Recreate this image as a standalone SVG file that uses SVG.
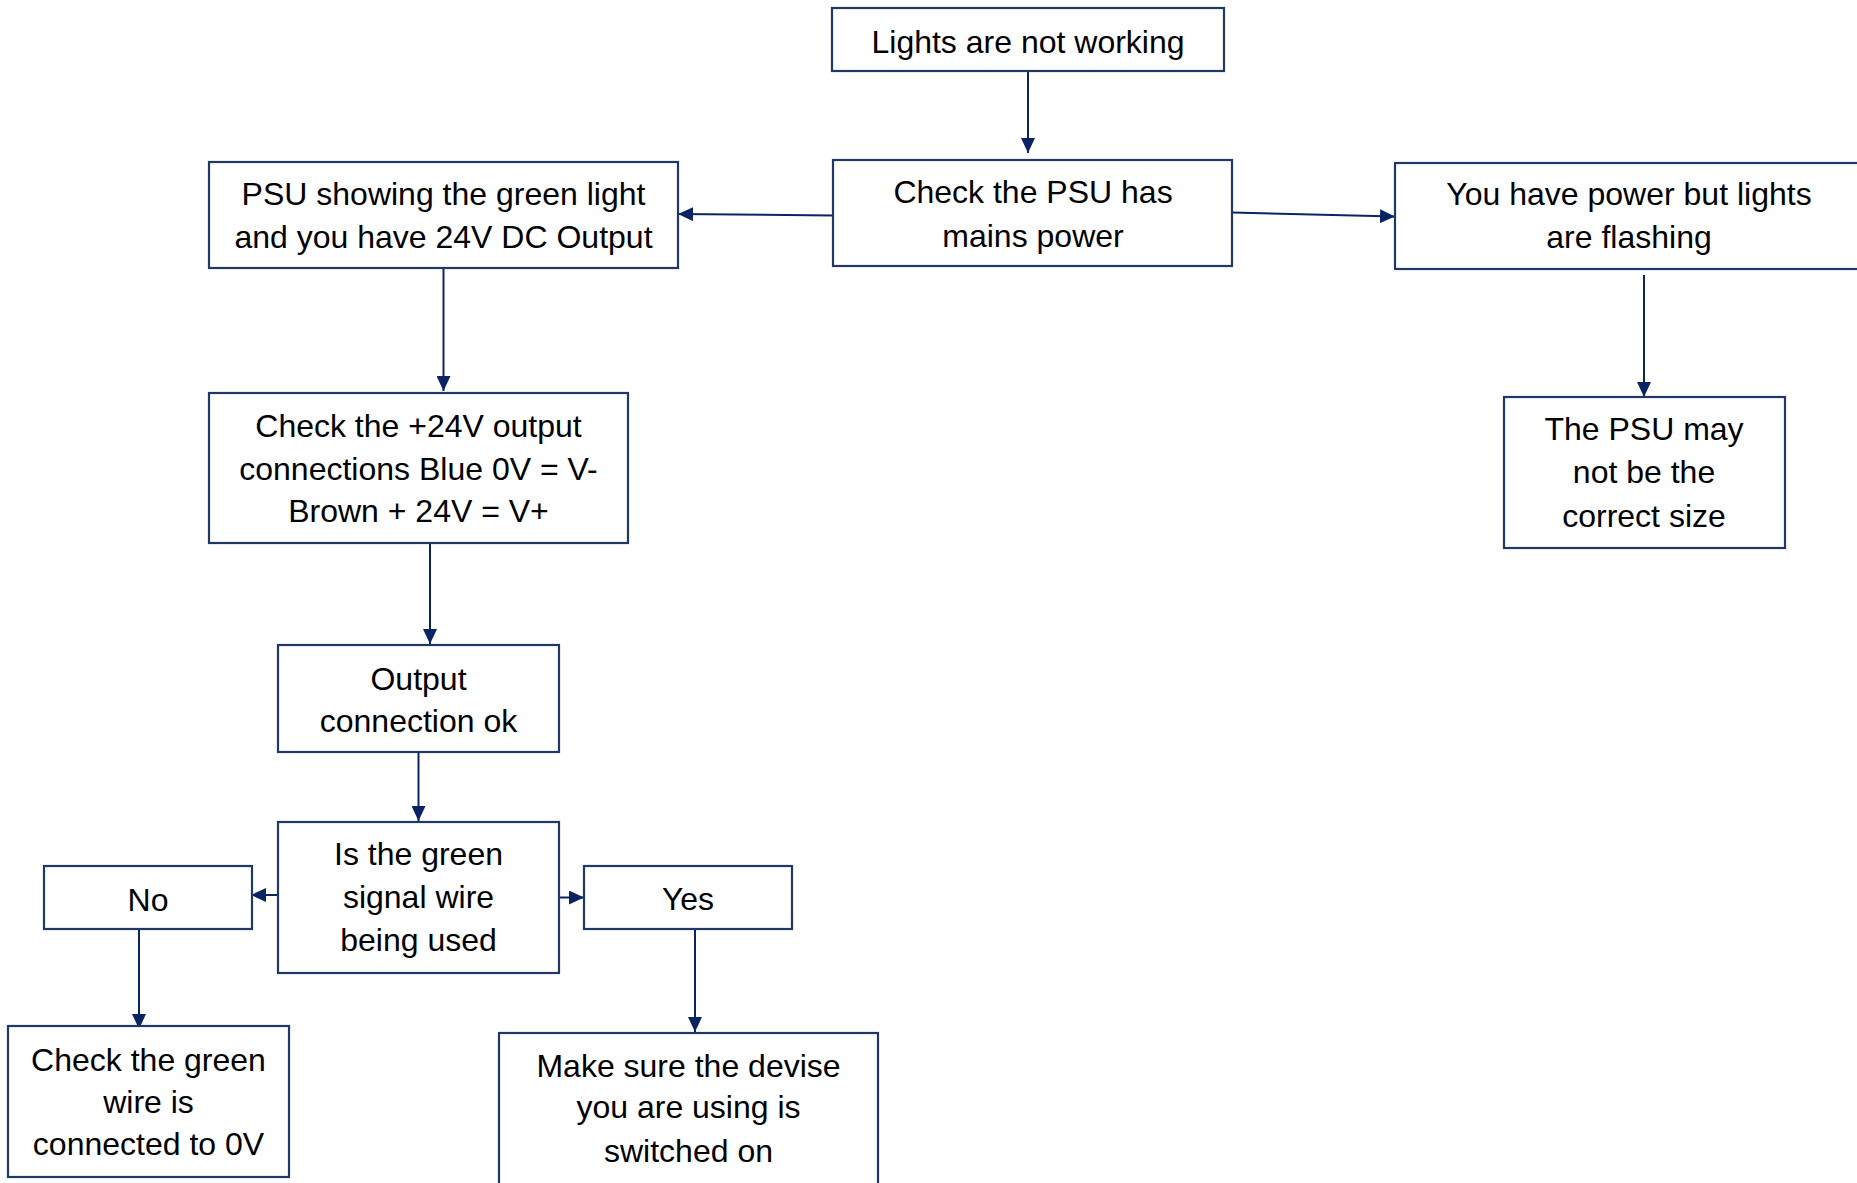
<svg xmlns="http://www.w3.org/2000/svg" width="1857" height="1183" viewBox="0 0 1857 1183">
<style>
.box{fill:#ffffff;stroke:#1f3864;stroke-width:2.2}
.t{font-family:"Liberation Sans",Arial,sans-serif;font-size:32px;fill:#000;text-anchor:middle}
.c{fill:none;stroke:#0a2463;stroke-width:2;marker-end:url(#ah)}
</style>
<defs>
<marker id="ah" markerUnits="userSpaceOnUse" markerWidth="15" markerHeight="14" refX="15" refY="7" orient="auto">
<path d="M0,0 L15,7 L0,14 z" fill="#0a2463"/>
</marker>
</defs>
<rect width="1857" height="1183" fill="#ffffff"/>
<g id="connectors">
<line class="c" x1="1028" y1="71" x2="1028" y2="153"/>
<line class="c" x1="833" y1="215.5" x2="678" y2="214"/>
<line class="c" x1="1232" y1="212.5" x2="1395" y2="216.5"/>
<line class="c" x1="443.5" y1="268" x2="443.5" y2="391"/>
<line class="c" x1="1644" y1="275" x2="1644" y2="397"/>
<line class="c" x1="430" y1="543" x2="430" y2="644"/>
<line class="c" x1="418.5" y1="752" x2="418.5" y2="821"/>
<line class="c" x1="281" y1="895" x2="251" y2="895"/>
<line class="c" x1="559" y1="897.5" x2="584" y2="897.5"/>
<line class="c" x1="139" y1="929" x2="139" y2="1029"/>
<line class="c" x1="695" y1="930" x2="695" y2="1032"/>
</g>
<g id="n1"><rect class="box" x="832" y="8" width="392" height="63"/><text class="t" x="1028" y="53">Lights are not working</text></g>
<g id="n2"><rect class="box" x="833" y="160" width="399" height="106"/><text class="t" x="1033" y="203">Check the PSU has</text><text class="t" x="1033" y="247">mains power</text></g>
<g id="n3"><rect class="box" x="209" y="162" width="469" height="106"/><text class="t" x="443.5" y="205">PSU showing the green light</text><text class="t" x="443.5" y="248">and you have 24V DC Output</text></g>
<g id="n4"><rect class="box" x="1395" y="163" width="468" height="106"/><text class="t" x="1629" y="205">You have power but lights</text><text class="t" x="1629" y="248">are flashing</text></g>
<g id="n5"><rect class="box" x="1504" y="397" width="281" height="151"/><text class="t" x="1644" y="440">The PSU may</text><text class="t" x="1644" y="483">not be the</text><text class="t" x="1644" y="527">correct size</text></g>
<g id="n6"><rect class="box" x="209" y="393" width="419" height="150"/><text class="t" x="418.5" y="437">Check the +24V output</text><text class="t" x="418.5" y="480">connections Blue 0V = V-</text><text class="t" x="418.5" y="522">Brown + 24V = V+</text></g>
<g id="n7"><rect class="box" x="278" y="645" width="281" height="107"/><text class="t" x="418.5" y="690">Output</text><text class="t" x="418.5" y="732">connection ok</text></g>
<g id="n8"><rect class="box" x="278" y="822" width="281" height="151"/><text class="t" x="418.5" y="865">Is the green</text><text class="t" x="418.5" y="908">signal wire</text><text class="t" x="418.5" y="951">being used</text></g>
<g id="n9"><rect class="box" x="44" y="866" width="208" height="63"/><text class="t" x="148" y="911">No</text></g>
<g id="n10"><rect class="box" x="584" y="866" width="208" height="63"/><text class="t" x="688" y="910">Yes</text></g>
<g id="n11"><rect class="box" x="8" y="1026" width="281" height="151"/><text class="t" x="148.5" y="1071">Check the green</text><text class="t" x="148.5" y="1113">wire is</text><text class="t" x="148.5" y="1155">connected to 0V</text></g>
<g id="n12"><rect class="box" x="499" y="1033" width="379" height="200"/><text class="t" x="688.5" y="1077">Make sure the devise</text><text class="t" x="688.5" y="1118">you are using is</text><text class="t" x="688.5" y="1162">switched on</text></g>
</svg>
